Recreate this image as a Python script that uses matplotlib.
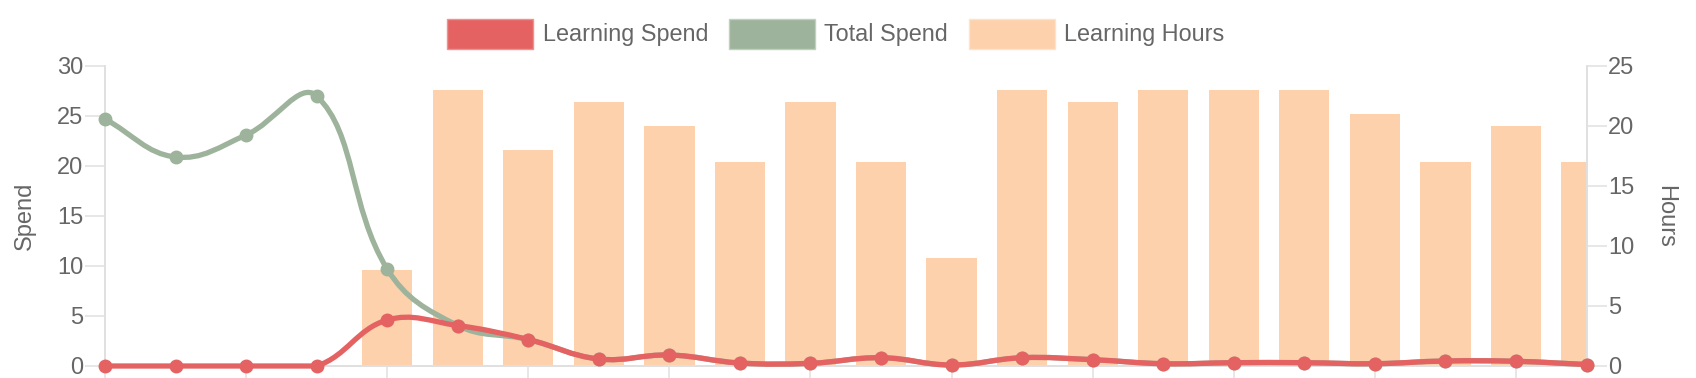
import numpy as np
import matplotlib
matplotlib.use("Agg")
import matplotlib.pyplot as plt
from matplotlib.path import Path
from matplotlib.patches import PathPatch, Rectangle

plt.rcParams['font.family'] = ['Liberation Sans', 'DejaVu Sans']

# ---------------- data ----------------
periods = list(range(22))
learning_spend = [0, 0, 0, 0, 4.6, 4.05, 2.65, 0.7, 1.1, 0.3, 0.27, 0.83, 0.1,
                  0.83, 0.63, 0.23, 0.33, 0.33, 0.23, 0.5, 0.47, 0.15]
total_spend = [24.7, 20.9, 23.1, 27.0, 9.7, 4.05, 2.65, 0.7, 1.1, 0.3, 0.27, 0.83, 0.1,
               0.83, 0.63, 0.23, 0.33, 0.33, 0.23, 0.5, 0.47, 0.15]
learning_hours = [0, 0, 0, 0, 8, 23, 18, 22, 20, 17, 22, 17, 9, 23, 22, 23, 23, 23,
                  21, 17, 20, 17]
series_names = ["Learning Spend", "Total Spend", "Learning Hours"]
spend_ticks = [0, 5, 10, 15, 20, 25, 30]
hours_ticks = [0, 5, 10, 15, 20, 25]

RED = '#e46262'
GREEN = '#9db39b'
PEACH = '#fcd1ab'
GRID = '#e0e0e0'
TXT = '#666666'

W, H = 1696, 378
fig = plt.figure(figsize=(W / 100, H / 100), dpi=100)
ax = fig.add_axes([105 / W, 12 / H, 1481.5 / W, 300 / H])
ax.bar(periods, learning_hours, width=0.713, color=PEACH, zorder=1)
ax.set_xlim(periods[0], periods[-1])
ax.set_ylim(hours_ticks[0], hours_ticks[-1])

axs = ax.twinx()
axs.set_ylim(spend_ticks[0], spend_ticks[-1])
axs.set_xlim(periods[0], periods[-1])


def chart_spline(a, xs, ys, t=0.4):
    """Chart.js-style bezier spline computed in pixel space."""
    pts = a.transData.transform(np.column_stack([xs, ys]).astype(float))
    bb = a.bbox
    n = len(pts)
    cps = []
    for i in range(n):
        cur = pts[i]
        prev = pts[i - 1] if i > 0 else cur
        nxt = pts[i + 1] if i < n - 1 else cur
        d01 = np.hypot(*(cur - prev))
        d12 = np.hypot(*(nxt - cur))
        s = d01 + d12
        s01 = d01 / s if s else 0.0
        s12 = d12 / s if s else 0.0
        cp_p = cur - t * s01 * (nxt - prev)
        cp_n = cur + t * s12 * (nxt - prev)
        for cp in (cp_p, cp_n):
            cp[0] = min(max(cp[0], bb.x0), bb.x1)
            cp[1] = min(max(cp[1], bb.y0), bb.y1)
        cps.append((cp_p, cp_n))
    verts = [pts[0]]
    codes = [Path.MOVETO]
    for i in range(1, n):
        verts += [cps[i - 1][1], cps[i][0], pts[i]]
        codes += [Path.CURVE4] * 3
    verts = a.transData.inverted().transform(np.array(verts))
    return Path(verts, codes)


for ys, col, z in [(total_spend, GREEN, 2), (learning_spend, RED, 3)]:
    p = chart_spline(axs, periods, ys)
    axs.add_patch(PathPatch(p, facecolor='none', edgecolor=col, lw=3.8,
                            zorder=z, clip_on=False, capstyle='round', joinstyle='round'))
    axs.plot(periods, ys, 'o', color=col, markersize=9, zorder=z + 0.1, clip_on=False)

# ---------------- axes styling ----------------
for a in (ax, axs):
    for s in a.spines.values():
        s.set_visible(False)
for side in ('left', 'right', 'bottom'):
    ax.spines[side].set_visible(True)
    ax.spines[side].set_color(GRID)
    ax.spines[side].set_linewidth(1.4)

axs.yaxis.tick_left()
axs.yaxis.set_label_position('left')
ax.yaxis.tick_right()
ax.yaxis.set_label_position('right')
axs.xaxis.set_visible(False)

axs.set_yticks(spend_ticks)
ax.set_yticks(hours_ticks)
ax.set_xticks(periods[::2])
ax.set_xticklabels([])
ax.tick_params(axis='x', length=8.6, width=1.1, color=GRID, direction='out')
for a in (ax, axs):
    a.tick_params(axis='y', length=14.4, width=1.1, color=GRID, direction='out',
                  labelsize=17, labelcolor=TXT, pad=1)

axs.set_ylabel('Spend', fontsize=17, color=TXT, ha='center', va='center')
axs.yaxis.set_label_coords((25 - 105) / 1481.5, 0.5)
ax.set_ylabel('Hours', fontsize=17, color=TXT, rotation=270, ha='center', va='center')
ax.yaxis.set_label_coords((1665 - 105) / 1481.5, 0.5)

# ---------------- legend ----------------
box_x = [447, 729, 969]
text_x = [543, 824, 1064]
colors = [RED, GREEN, PEACH]
edges = ['#f09090', '#c0d0be', '#fde3cc']
for bx, tx, c, ec, name in zip(box_x, text_x, colors, edges, series_names):
    fig.add_artist(Rectangle((bx / W, 1 - 48.5 / H), 86 / W, 30 / H,
                             transform=fig.transFigure, facecolor=c, edgecolor=ec, lw=1))
    fig.text(tx / W, 1 - 41 / H, name, fontsize=16.8, color=TXT, ha='left', va='baseline')

fig.savefig('out.png', dpi=100)
